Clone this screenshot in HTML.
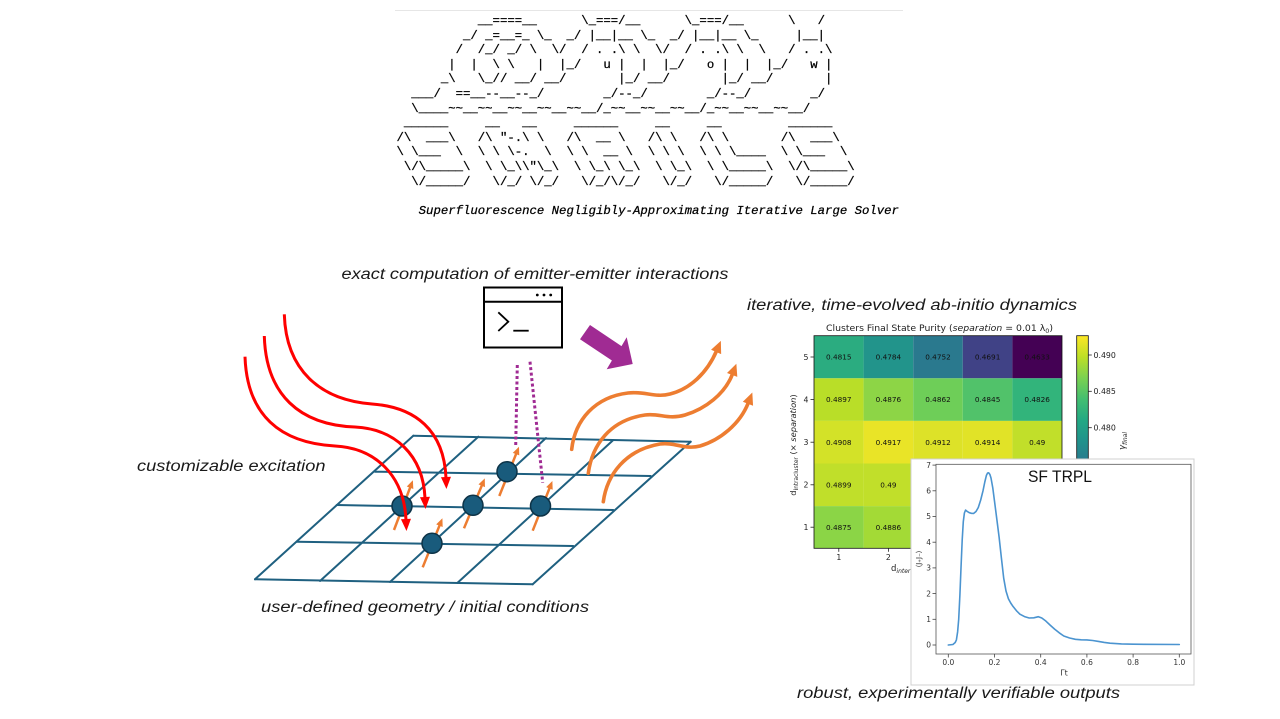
<!DOCTYPE html>
<html>
<head>
<meta charset="utf-8">
<style>
html,body{margin:0;padding:0;background:#fff;}
body{width:1280px;height:719px;overflow:hidden;position:relative;}
svg{position:absolute;left:0;top:0;}
pre.art{position:absolute;left:396.5px;top:14px;margin:0;font-family:"Liberation Mono",monospace;font-size:12.32px;line-height:14.6px;color:#000;-webkit-text-stroke:0.25px #000;white-space:pre;}
pre.art i{font-style:italic;}
</style>
</head>
<body>
<svg width="1280" height="719" viewBox="0 0 1280 719" xmlns="http://www.w3.org/2000/svg">
<defs>
  <marker id="rh" markerUnits="userSpaceOnUse" markerWidth="14" markerHeight="12" refX="1" refY="5" orient="auto" overflow="visible">
    <path d="M0,0 L12,5 L0,10 z" fill="#ff0000"/>
  </marker>
  <marker id="oh" markerUnits="userSpaceOnUse" markerWidth="10" markerHeight="8" refX="1" refY="3.5" orient="auto" overflow="visible">
    <path d="M0,0 L8,3.5 L0,7 z" fill="#ed7d31"/>
  </marker>
  <marker id="owh" markerUnits="userSpaceOnUse" markerWidth="14" markerHeight="12" refX="1" refY="5.5" orient="auto" overflow="visible">
    <path d="M0,0 L12,5.5 L0,11 z" fill="#ed7d31"/>
  </marker>
  <linearGradient id="vir" gradientUnits="userSpaceOnUse" x1="0" y1="335.7" x2="0" y2="548">
    <stop offset="0" stop-color="#fde725"/>
    <stop offset="0.1" stop-color="#bddf26"/>
    <stop offset="0.2" stop-color="#7ad151"/>
    <stop offset="0.3" stop-color="#42be71"/>
    <stop offset="0.4" stop-color="#22a884"/>
    <stop offset="0.5" stop-color="#21918c"/>
    <stop offset="0.6" stop-color="#2a788e"/>
    <stop offset="0.7" stop-color="#355f8d"/>
    <stop offset="0.8" stop-color="#414487"/>
    <stop offset="0.9" stop-color="#482475"/>
    <stop offset="1" stop-color="#440154"/>
  </linearGradient>
</defs>

<!-- header rule -->
<line x1="395" y1="10.5" x2="903" y2="10.5" stroke="#e6e6e6" stroke-width="1"/>

<!-- ===== Labels ===== -->
<g font-family="Liberation Sans, Arial, sans-serif" font-style="italic" font-size="15.5" fill="#1a1a1a">
  <text x="341.5" y="279" textLength="387" lengthAdjust="spacingAndGlyphs">exact computation of emitter-emitter interactions</text>
  <text x="747" y="310" textLength="330" lengthAdjust="spacingAndGlyphs">iterative, time-evolved ab-initio dynamics</text>
  <text x="137" y="471" textLength="188.5" lengthAdjust="spacingAndGlyphs">customizable excitation</text>
  <text x="261" y="612" textLength="328" lengthAdjust="spacingAndGlyphs">user-defined geometry / initial conditions</text>
  <text x="797" y="698" textLength="323" lengthAdjust="spacingAndGlyphs">robust, experimentally verifiable outputs</text>
</g>

<!-- ===== Terminal icon ===== -->
<g fill="none" stroke="#000" stroke-width="2">
  <rect x="484" y="287.5" width="78" height="60"/>
  <line x1="484" y1="301.7" x2="562" y2="301.7"/>
  <path d="M498.3,312.3 L508.3,321.7 L498.3,331" stroke-width="1.8"/>
  <line x1="513.3" y1="330.7" x2="528.7" y2="330.7" stroke-width="1.8"/>
</g>
<circle cx="537.3" cy="295" r="1.4" fill="#000"/>
<circle cx="544" cy="295" r="1.4" fill="#000"/>
<circle cx="550.7" cy="295" r="1.4" fill="#000"/>

<!-- ===== Purple block arrow ===== -->
<polygon points="590,325 621.5,346.1 626.7,337.3 632.7,364 606.7,369.3 611.9,360.5 580,339.3" fill="#a02b93"/>

<!-- ===== Lattice ===== -->
<g stroke="#1f6080" stroke-width="2" fill="none" stroke-linecap="round">
  <line x1="413.3" y1="435.7" x2="690.7" y2="441.7"/>
  <line x1="375" y1="471.7" x2="650.7" y2="476"/>
  <line x1="336.7" y1="505" x2="613.3" y2="510"/>
  <line x1="296.7" y1="541.7" x2="573.3" y2="546"/>
  <line x1="255" y1="579.3" x2="532.7" y2="584.3"/>
  <line x1="413.3" y1="435.7" x2="255" y2="579.3"/>
  <line x1="478.3" y1="436.7" x2="320" y2="581"/>
  <line x1="546" y1="438" x2="390" y2="582"/>
  <line x1="613.3" y1="440" x2="457.3" y2="583"/>
  <line x1="690.7" y1="441.7" x2="532.7" y2="584.3"/>
</g>

<!-- purple dotted interaction lines -->
<g stroke="#a02b93" stroke-width="3" stroke-dasharray="3 2.5" fill="none">
  <line x1="517.3" y1="365" x2="515.7" y2="445.7"/>
  <line x1="530" y1="361.7" x2="542.7" y2="482.7"/>
</g>

<!-- spin arrows -->
<g stroke="#ed7d31" stroke-width="2.5" fill="none" marker-end="url(#oh)">
  <line x1="394" y1="530" x2="410.4" y2="486.8"/>
  <line x1="464" y1="528.3" x2="482.1" y2="484.8"/>
  <line x1="499.3" y1="496" x2="516.4" y2="453.2"/>
  <line x1="532.7" y1="530.7" x2="549.8" y2="487.5"/>
  <line x1="422.7" y1="567.3" x2="439.8" y2="524.8"/>
</g>

<!-- emitters -->
<g fill="#195b7c" stroke="#0d3347" stroke-width="1.5">
  <circle cx="402" cy="506" r="10"/>
  <circle cx="473" cy="505.3" r="10"/>
  <circle cx="507" cy="471.7" r="10"/>
  <circle cx="540.5" cy="506" r="10"/>
  <circle cx="432" cy="543.3" r="10"/>
</g>

<!-- emission waves -->
<g stroke="#ed7d31" stroke-width="3.6" fill="none" stroke-linecap="round" marker-end="url(#owh)">
  <path d="M571.7,449.3 C575,420 595,397 628,393 C645,391 655,398 670,394 C690,389 707,373 716.5,351"/>
  <path d="M588.3,473.3 C592,445 610,420 645,415 C660,413 668,420 685,415 C705,409 725,394 732.5,374"/>
  <path d="M603.3,501.7 C607,475 625,450 660,444 C675,442 685,450 700,446 C720,440 740,424 748.3,402.8"/>
</g>

<!-- excitation (red) -->
<g stroke="#ff0000" stroke-width="3" fill="none" marker-end="url(#rh)">
  <path d="M284.3,314.3 C286,370 320,400 372,404 C415,407 444,430 446,478"/>
  <path d="M264.3,336 C266,395 300,425 355,427 C395,429 423,455 425,498"/>
  <path d="M245,356.7 C247,415 280,443 335,446 C375,448 404,475 406,520"/>
</g>

<!-- ===== Heatmap ===== -->
<g font-family="DejaVu Sans, Liberation Sans, sans-serif">
  <text x="939.5" y="331" font-size="8.8" text-anchor="middle" fill="#222" textLength="227" lengthAdjust="spacingAndGlyphs">Clusters Final State Purity (<tspan font-style="italic">separation</tspan> = 0.01 λ<tspan font-size="6" dy="2">0</tspan><tspan dy="-2">)</tspan></text>
  <!-- row 5 -->
  <rect x="814" y="335.7" width="49.6" height="42.6" fill="#2bac80"/>
  <rect x="863.6" y="335.7" width="49.6" height="42.6" fill="#22948b"/>
  <rect x="913.2" y="335.7" width="49.6" height="42.6" fill="#2a798e"/>
  <rect x="962.8" y="335.7" width="49.6" height="42.6" fill="#404286"/>
  <rect x="1012.4" y="335.7" width="49.6" height="42.6" fill="#440154"/>
  <!-- row 4 -->
  <rect x="814" y="378.3" width="49.6" height="42.6" fill="#b9de28"/>
  <rect x="863.6" y="378.3" width="49.6" height="42.6" fill="#8dd546"/>
  <rect x="913.2" y="378.3" width="49.6" height="42.6" fill="#6ece58"/>
  <rect x="962.8" y="378.3" width="49.6" height="42.6" fill="#51c26a"/>
  <rect x="1012.4" y="378.3" width="49.6" height="42.6" fill="#32b47b"/>
  <!-- row 3 -->
  <rect x="814" y="420.9" width="49.6" height="42.6" fill="#d3e228"/>
  <rect x="863.6" y="420.9" width="49.6" height="42.6" fill="#e9e427"/>
  <rect x="913.2" y="420.9" width="49.6" height="42.6" fill="#dde228"/>
  <rect x="962.8" y="420.9" width="49.6" height="42.6" fill="#e1e327"/>
  <rect x="1012.4" y="420.9" width="49.6" height="42.6" fill="#c1df2a"/>
  <!-- row 2 -->
  <rect x="814" y="463.5" width="49.6" height="42.6" fill="#c0df2a"/>
  <rect x="863.6" y="463.5" width="49.6" height="42.6" fill="#c1df2a"/>
  <!-- row 1 -->
  <rect x="814" y="506.1" width="49.6" height="42.2" fill="#8bd546"/>
  <rect x="863.6" y="506.1" width="49.6" height="42.2" fill="#a3da36"/>
  <rect x="814" y="335.7" width="248" height="212.6" fill="none" stroke="#111" stroke-width="0.8"/>
  <g font-size="7.3" fill="#111" text-anchor="middle">
    <text x="838.8" y="359.6">0.4815</text><text x="888.4" y="359.6">0.4784</text><text x="938" y="359.6">0.4752</text><text x="987.6" y="359.6">0.4691</text><text x="1037.2" y="359.6">0.4633</text>
    <text x="838.8" y="402.2">0.4897</text><text x="888.4" y="402.2">0.4876</text><text x="938" y="402.2">0.4862</text><text x="987.6" y="402.2">0.4845</text><text x="1037.2" y="402.2">0.4826</text>
    <text x="838.8" y="444.8">0.4908</text><text x="888.4" y="444.8">0.4917</text><text x="938" y="444.8">0.4912</text><text x="987.6" y="444.8">0.4914</text><text x="1037.2" y="444.8">0.49</text>
    <text x="838.8" y="487.4">0.4899</text><text x="888.4" y="487.4">0.49</text>
    <text x="838.8" y="529.9">0.4875</text><text x="888.4" y="529.9">0.4886</text>
  </g>
  <g stroke="#222" stroke-width="0.8">
    <line x1="810.5" y1="357" x2="814" y2="357"/><line x1="810.5" y1="399.6" x2="814" y2="399.6"/><line x1="810.5" y1="442.2" x2="814" y2="442.2"/><line x1="810.5" y1="484.8" x2="814" y2="484.8"/><line x1="810.5" y1="527.2" x2="814" y2="527.2"/>
    <line x1="838.8" y1="548.3" x2="838.8" y2="551.8"/><line x1="888.4" y1="548.3" x2="888.4" y2="551.8"/>
  </g>
  <g font-size="7.8" fill="#222" text-anchor="end">
    <text x="808.5" y="359.8">5</text><text x="808.5" y="402.4">4</text><text x="808.5" y="445">3</text><text x="808.5" y="487.6">2</text><text x="808.5" y="530">1</text>
  </g>
  <g font-size="7.8" fill="#222" text-anchor="middle">
    <text x="838.8" y="560">1</text><text x="888.4" y="560">2</text>
  </g>
  <text x="891" y="571" font-size="8.5" fill="#222">d<tspan font-size="6" dy="2" font-style="italic">interc</tspan></text>
  <text transform="translate(796,445) rotate(-90)" font-size="8.3" fill="#222" text-anchor="middle">d<tspan font-size="5.8" dy="2">intracluster</tspan><tspan dy="-2"> (× </tspan><tspan font-style="italic">separation</tspan>)</text>
  <!-- colorbar -->
  <rect x="1076.7" y="335.7" width="11.6" height="212.3" fill="url(#vir)" stroke="#111" stroke-width="0.8"/>
  <g stroke="#222" stroke-width="0.8">
    <line x1="1088.3" y1="355" x2="1091.8" y2="355"/><line x1="1088.3" y1="391.3" x2="1091.8" y2="391.3"/><line x1="1088.3" y1="427.7" x2="1091.8" y2="427.7"/>
  </g>
  <g font-size="7.8" fill="#222">
    <text x="1093.5" y="357.8">0.490</text><text x="1093.5" y="394.1">0.485</text><text x="1093.5" y="430.5">0.480</text>
  </g>
  <text transform="translate(1125,441) rotate(-90)" font-size="8.5" fill="#222" text-anchor="middle" font-style="italic">γ<tspan font-size="6" dy="2">final</tspan></text>
</g>

<!-- ===== TRPL plot ===== -->
<rect x="911" y="459" width="283" height="226" fill="#fff" stroke="#d0d0d0" stroke-width="1"/>
<g font-family="DejaVu Sans, Liberation Sans, sans-serif">
  <rect x="936" y="464.3" width="255" height="189.7" fill="none" stroke="#555" stroke-width="0.8"/>
  <g stroke="#444" stroke-width="0.8">
    <line x1="932.5" y1="645" x2="936" y2="645"/><line x1="932.5" y1="619.3" x2="936" y2="619.3"/><line x1="932.5" y1="593.6" x2="936" y2="593.6"/><line x1="932.5" y1="567.9" x2="936" y2="567.9"/><line x1="932.5" y1="542.2" x2="936" y2="542.2"/><line x1="932.5" y1="516.5" x2="936" y2="516.5"/><line x1="932.5" y1="490.8" x2="936" y2="490.8"/><line x1="932.5" y1="465.1" x2="936" y2="465.1"/>
    <line x1="948.3" y1="654" x2="948.3" y2="657.5"/><line x1="994.5" y1="654" x2="994.5" y2="657.5"/><line x1="1040.7" y1="654" x2="1040.7" y2="657.5"/><line x1="1086.9" y1="654" x2="1086.9" y2="657.5"/><line x1="1133.1" y1="654" x2="1133.1" y2="657.5"/><line x1="1179.3" y1="654" x2="1179.3" y2="657.5"/>
  </g>
  <g font-size="7.5" fill="#333" text-anchor="end">
    <text x="931" y="647.7">0</text><text x="931" y="622">1</text><text x="931" y="596.3">2</text><text x="931" y="570.6">3</text><text x="931" y="544.9">4</text><text x="931" y="519.2">5</text><text x="931" y="493.5">6</text><text x="931" y="467.8">7</text>
  </g>
  <g font-size="7.5" fill="#333" text-anchor="middle">
    <text x="948.3" y="665">0.0</text><text x="994.5" y="665">0.2</text><text x="1040.7" y="665">0.4</text><text x="1086.9" y="665">0.6</text><text x="1133.1" y="665">0.8</text><text x="1179.3" y="665">1.0</text>
  </g>
  <text x="1064" y="675.5" font-size="8" fill="#333" text-anchor="middle">Γt</text>
  <text transform="translate(921,559) rotate(-90)" font-size="7" fill="#333" text-anchor="middle">⟨J₊J₋⟩</text>
  <text x="1028" y="482" font-family="Liberation Sans, Arial, sans-serif" font-size="17" fill="#111" textLength="64" lengthAdjust="spacingAndGlyphs">SF TRPL</text>
  <polyline fill="none" stroke="#4b94d0" stroke-width="1.6" stroke-linejoin="round" stroke-linecap="round"
    points="948.3,645 952.9,644.5 955.2,642.5 956.4,639.9 957.6,632 958.7,619.3 959.9,595 961,567.9 962.2,540 963.3,521.6 964.4,513 965.6,510.1 967.3,511.5 969.1,512.6 971.4,513.3 973.7,513.4 976,511.5 978.3,507.5 980.7,500 983,490.8 984.8,482 986.4,475.4 987.6,473 988.7,472.8 989.9,474.5 991,478 992.8,488 994.5,501.1 996.8,519 999.1,537.1 1001.4,558 1003.7,578.2 1006,591 1008.4,598.7 1010.7,603 1013,606.4 1016.5,610.8 1019.9,614.2 1024.5,616.6 1029.2,618 1033.8,617.8 1038.4,616.7 1041.8,618 1045.3,620.6 1050,625 1054.6,629.1 1059.2,632.8 1063.8,636 1069.6,638 1075.4,639.3 1081.2,639.8 1086.9,639.9 1092.7,640.5 1098.5,641.4 1104.3,642.4 1110,643.2 1121.5,643.9 1133.1,644.2 1179.3,644.5"/>
</g>
</svg>

<pre class="art">           __====__      \_===/__      \_===/__      \   /
         _/ _=__=_ \_  _/ |__|__ \_  _/ |__|__ \_     |__|
        /  /_/ _/ \  \/  / . .\ \  \/  / . .\ \  \   / . .\
       |  |  \ \   |  |_/   u |  |  |_/   o |  |  |_/   w |
      _\   \_// __/ __/       |_/ __/       |_/ __/       |
  ___/  ==__--__--_/        _/--_/        _/--_/        _/
  \____~~__~~__~~__~~__~~__/_~~__~~__~~__/_~~__~~__~~__/
 ______     __   __     ______     __     __         ______
/\  ___\   /\ "-.\ \   /\  __ \   /\ \   /\ \       /\  ___\
\ \___  \  \ \ \-.  \  \ \  __ \  \ \ \  \ \ \____  \ \___  \
 \/\_____\  \ \_\\"\_\  \ \_\ \_\  \ \_\  \ \_____\  \/\_____\
  \/_____/   \/_/ \/_/   \/_/\/_/   \/_/   \/_____/   \/_____/

   <i>Superfluorescence Negligibly-Approximating Iterative Large Solver</i></pre>
</body>
</html>
